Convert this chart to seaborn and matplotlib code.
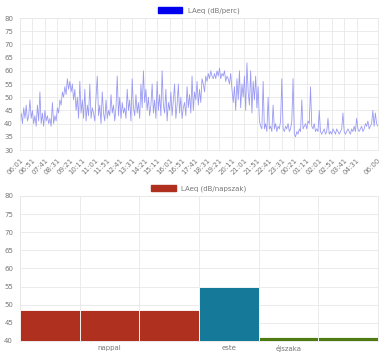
import matplotlib.pyplot as plt
import seaborn as sns
import numpy as np
import pandas as pd
from matplotlib.patches import Patch

# LAeq per minute (read every 5 minutes), 06:01 -> 06:00 next day
h06 = [41, 44, 40, 46, 42, 47, 41, 43, 49, 42, 45, 40]
h07 = [43, 39, 47, 41, 52, 40, 44, 39, 45, 41, 43, 40]
h08 = [42, 39, 48, 40, 43, 41, 46, 44, 49, 47, 52, 50]
h09 = [54, 51, 57, 53, 56, 52, 55, 49, 53, 45, 50, 42]
h10 = [56, 44, 49, 42, 53, 41, 47, 43, 55, 42, 46, 44]
h11 = [41, 50, 58, 43, 47, 40, 52, 44, 41, 49, 42, 45]
h12 = [43, 51, 44, 47, 41, 46, 58, 43, 50, 42, 48, 44]
h13 = [46, 42, 53, 45, 49, 41, 57, 46, 43, 51, 44, 48]
h14 = [42, 55, 46, 60, 48, 53, 45, 50, 43, 47, 55, 44]
h15 = [49, 42, 56, 45, 51, 43, 60, 47, 44, 53, 41, 48]
h16 = [45, 52, 43, 49, 55, 42, 47, 55, 44, 50, 42, 46]
h17 = [48, 43, 54, 46, 51, 44, 58, 45, 52, 49, 56, 47]
h18 = [53, 48, 57, 55, 52, 58, 56, 59, 57, 60, 58, 57]
h19 = [59, 57, 60, 58, 61, 57, 59, 58, 60, 56, 58, 57]
h20 = [55, 59, 53, 48, 54, 45, 57, 49, 60, 46, 55, 50]
h21 = [58, 45, 63, 52, 47, 60, 44, 56, 49, 58, 46, 54]
h22 = [41, 39, 38, 56, 38, 40, 37, 50, 38, 39, 37, 47]
h23 = [38, 40, 37, 39, 38, 41, 57, 38, 37, 39, 38, 40]
h00 = [37, 38, 41, 57, 36, 35, 37, 36, 38, 37, 49, 38]
h01 = [39, 40, 38, 41, 40, 54, 39, 38, 40, 37, 38, 37]
h02 = [45, 37, 36, 37, 38, 36, 37, 42, 36, 37, 36, 38]
h03 = [37, 36, 38, 37, 36, 37, 38, 44, 37, 36, 37, 38]
h04 = [37, 36, 38, 37, 39, 37, 42, 38, 37, 38, 39, 37]
h05 = [38, 40, 39, 41, 38, 39, 40, 45, 39, 44, 40, 39]

hours = [h06, h07, h08, h09, h10, h11, h12, h13, h14, h15, h16, h17,
         h18, h19, h20, h21, h22, h23, h00, h01, h02, h03, h04, h05]
laeq = [v for h in hours for v in h]

# time labels, 5 min steps from 06:01
times = []
for i in range(len(laeq)):
    m = (6 * 60 + 1 + 5 * i) % (24 * 60)
    times.append('%02d:%02d' % (m // 60, m % 60))
times[-1] = '06:00'

# napszak bars
slot_labels = ['', 'nappal', '', 'este', 'éjszaka', '']
slot_values = [48.5, 48.5, 48.5, 54.8, 41.0, 41.0]
slot_colors = ['#b0301f', '#b0301f', '#b0301f', '#15799a', '#4e7c12', '#4e7c12']

df = pd.DataFrame({'i': np.arange(len(laeq)), 'laeq': laeq})

sns.set_style('white')
plt.rcParams['font.family'] = ['DejaVu Sans']
grid_c = '#e8e8e8'
txt_c = '#777777'

fig = plt.figure(figsize=(3.84, 3.53), dpi=100)
ax1 = fig.add_axes([0.052, 0.575, 0.932, 0.374])
ax2 = fig.add_axes([0.052, 0.034, 0.932, 0.411])

# ---- top: per-minute line
sns.lineplot(data=df, x='i', y='laeq', ax=ax1, color='#9b9bf4', lw=0.6)
ax1.set_xlim(0, len(laeq) - 1)
ax1.set_ylim(30, 80)
ax1.set_yticks(np.arange(30, 81, 5))
tick_idx = list(range(0, 280, 10)) + [len(laeq) - 1]
ax1.set_xticks(tick_idx)
ax1.set_xticklabels([times[k] for k in tick_idx], rotation=45, ha='right',
                    rotation_mode='anchor')
ax1.set_xlabel('')
ax1.set_ylabel('')
ax1.grid(True, color=grid_c, lw=0.6)
ax1.legend(handles=[Patch(facecolor='#0000ee', edgecolor='#0000ee')],
           labels=['LAeq (dB/perc)'], loc='lower center',
           bbox_to_anchor=(0.5, 1.0), frameon=False, fontsize=5,
           handlelength=3.5, handleheight=0.9, labelcolor=txt_c,
           borderaxespad=0.2)

# ---- bottom: napszak bars
sns.barplot(x=list(range(6)), y=slot_values, hue=list(range(6)),
            palette=slot_colors, saturation=1, width=1.0, ax=ax2,
            legend=False, edgecolor='white', linewidth=0.6, zorder=3)
ax2.set_xlim(-0.5, 5.5)
ax2.set_ylim(40, 80)
ax2.set_yticks(np.arange(40, 81, 5))
ax2.set_xticks(range(6))
ax2.set_xticklabels(slot_labels)
ax2.set_xticks(np.arange(-0.5, 6, 1), minor=True)
ax2.grid(True, which='minor', axis='x', color=grid_c, lw=0.6)
ax2.grid(True, which='major', axis='y', color=grid_c, lw=0.6)
ax2.set_axisbelow(True)
ax2.legend(handles=[Patch(facecolor='#b0301f', edgecolor='#b0301f')],
           labels=['LAeq (dB/napszak)'], loc='lower center',
           bbox_to_anchor=(0.5, 1.0), frameon=False, fontsize=5,
           handlelength=3.5, handleheight=0.9, labelcolor=txt_c,
           borderaxespad=0.2)

for ax in (ax1, ax2):
    for s in ax.spines.values():
        s.set_color(grid_c)
        s.set_linewidth(0.6)
    ax.tick_params(axis='both', labelsize=5, colors=txt_c, length=3,
                   width=0.6, pad=2)
    ax.tick_params(axis='both', which='both', color=grid_c)
ax2.tick_params(axis='x', which='major', length=0, pad=3)
ax2.tick_params(axis='x', which='minor', length=3)

fig.savefig('out.png', dpi=100)
